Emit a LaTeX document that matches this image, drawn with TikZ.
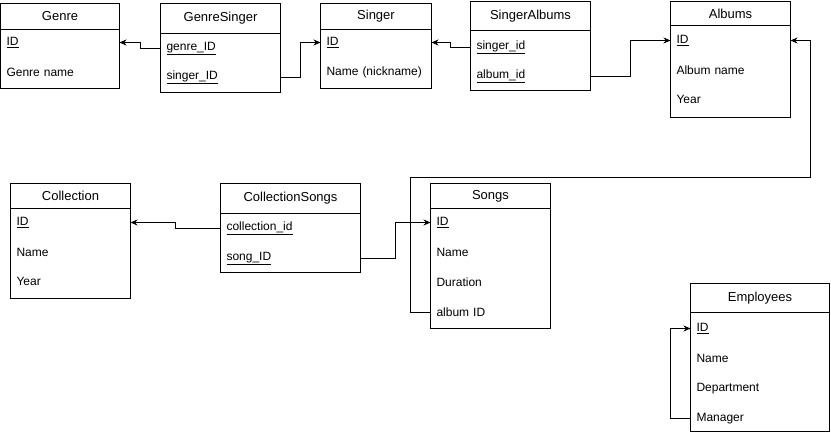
\documentclass[tikz,border=0pt]{standalone}
\usepackage{fontspec}
\setmainfont{Liberation Sans}
\usepackage{tikz}
\usetikzlibrary{positioning}
\usetikzlibrary{calc}
\usetikzlibrary{arrows.meta}

\begin{document}
\begin{tikzpicture}[
		x=1pt, y=-1pt,
		line width=1pt,
		head/.style={draw, anchor=north west, inner sep=0pt, outer sep=0pt, font=\fontsize{13}{15}\selectfont},
		body/.style={draw, anchor=north west, inner sep=0pt, outer sep=0pt},
		row/.style={anchor=west, inner xsep=6pt, inner ysep=0pt, outer sep=0pt, text width=#1, align=left, font=\fontsize{12}{14}\selectfont},
		fk/.style={-{Stealth[length=7pt, width=6pt]}, line width=1pt}
		]
		\useasboundingbox (0,0) rectangle (831,433);
		\begin{scope}[xshift=0.5pt, yshift=-0.5pt]
		% upper row of tables
		\node[head, minimum width=119, minimum height=26] (genre) at (0,3) {Genre};
		\node[body, minimum width=119, minimum height=59] (genre-b) at (genre.south west) {};
		\node[row=107] (genre-id) at (0,42) {\underline{ID}};
		\node[row=107] (genre-name) at (0,72) {Genre name};

		\node[head, minimum width=120, minimum height=30] (gs) at (160,3) {GenreSinger};
		\node[body, minimum width=120, minimum height=59] (gs-b) at (gs.south west) {};
		\node[row=108] (gs-genre) at (160,48) {\underline{genre\_ID}};
		\node[row=108] (gs-singer) at (160,77) {\underline{singer\_ID}};

		\node[head, minimum width=111, minimum height=26] (singer) at (320,3) {Singer};
		\node[body, minimum width=111, minimum height=59] (singer-b) at (singer.south west) {};
		\node[row=99] (singer-id) at (320,42) {\underline{ID}};
		\node[row=99] (singer-name) at (320,72) {Name (nickname)};

		\node[head, minimum width=120, minimum height=29] (sa) at (470,1) {SingerAlbums};
		\node[body, minimum width=120, minimum height=60] (sa-b) at (sa.south west) {};
		\node[row=108] (sa-singer) at (470,47) {\underline{singer\_id}};
		\node[row=108] (sa-album) at (470,76) {\underline{album\_id}};

		\node[head, minimum width=120, minimum height=24] (albums) at (670,1) {Albums};
		\node[body, minimum width=120, minimum height=92] (albums-b) at (albums.south west) {};
		\node[row=108] (albums-id) at (670,40) {\underline{ID}};
		\node[row=108] (albums-name) at (670,70) {Album name};
		\node[row=108] (albums-year) at (670,99) {Year};

		% lower row of tables
		\node[head, minimum width=120, minimum height=25] (coll) at (10,183) {Collection};
		\node[body, minimum width=120, minimum height=90] (coll-b) at (coll.south west) {};
		\node[row=108] (coll-id) at (10,222) {\underline{ID}};
		\node[row=108] (coll-name) at (10,252) {Name};
		\node[row=108] (coll-year) at (10,281) {Year};

		\node[head, minimum width=140, minimum height=30] (cs) at (220,183) {CollectionSongs};
		\node[body, minimum width=140, minimum height=59] (cs-b) at (cs.south west) {};
		\node[row=128] (cs-coll) at (220,228) {\underline{collection\_id}};
		\node[row=128] (cs-song) at (220,258) {\underline{song\_ID}};

		\node[head, minimum width=120, minimum height=25] (songs) at (430,183) {Songs};
		\node[body, minimum width=120, minimum height=120] (songs-b) at (songs.south west) {};
		\node[row=108] (songs-id) at (430,222) {\underline{ID}};
		\node[row=108] (songs-name) at (430,252) {Name};
		\node[row=108] (songs-dur) at (430,282) {Duration};
		\node[row=108] (songs-album) at (430,312) {album ID};

		\node[head, minimum width=139, minimum height=29] (emp) at (690,283) {Employees};
		\node[body, minimum width=139, minimum height=119] (emp-b) at (emp.south west) {};
		\node[row=127] (emp-id) at (690,328) {\underline{ID}};
		\node[row=127] (emp-name) at (690,358) {Name};
		\node[row=127] (emp-dep) at (690,388) {Department};
		\node[row=127] (emp-mgr) at (690,418) {Manager};

		% foreign keys
		\coordinate (bend) at (810,177);
		\draw[fk] (gs-genre.west) -- ++(-20,0) |- (genre-id.east);
		\draw[fk] (gs-singer.east) -- ++(20,0) |- (singer-id.west);
		\draw[fk] (sa-singer.west) -- ++(-20,0) |- (singer-id.east);
		\draw[fk] (sa-album.east) -- ++(40,0) |- (albums-id.west);
		\draw[fk] (songs-album.west) -- ++(-20,0) |- (bend) |- (albums-id.east);
		\draw[fk] (cs-coll.west) -- ++(-45,0) |- (coll-id.east);
		\draw[fk] (cs-song.east) -- ++(35,0) |- (songs-id.west);
		\draw[fk] (emp-mgr.west) -- ++(-20,0) |- (emp-id.west);
		\end{scope}
	\end{tikzpicture}
\end{document}
